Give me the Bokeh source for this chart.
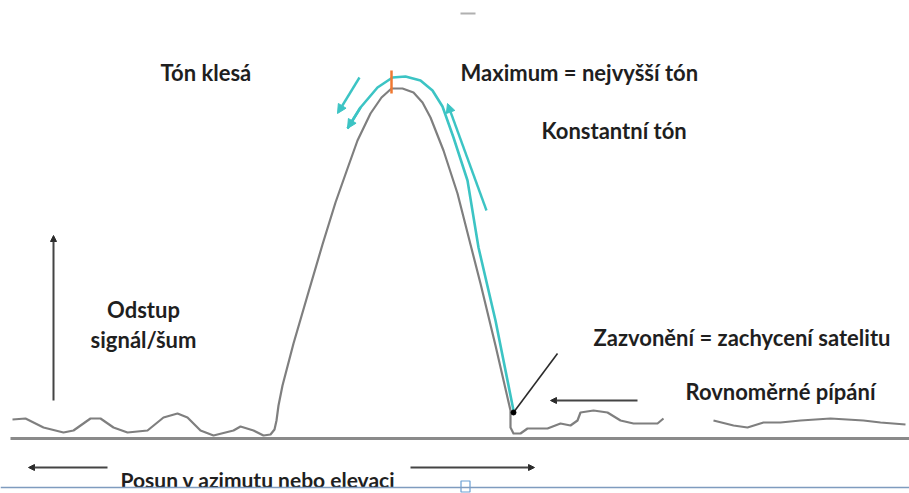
from bokeh.plotting import figure
from bokeh.models import Range1d, Arrow, NormalHead, ColumnDataSource
from bokeh.core.properties import value
from bokeh.embed import file_html
from bokeh.resources import INLINE

# ---- diagram data (image-pixel coordinates) ----
# signal trace: left noise -> peak -> right noise (first part)
trace_x = [12, 25, 43, 63, 73, 90, 100, 113, 127, 147, 163, 177, 187, 200, 213, 233, 240, 253, 263, 270, 274, 276,
           278, 282, 293, 307, 322, 335, 347, 357, 370, 381, 391,
           402, 413, 422, 430, 443, 457, 470, 480, 495, 510, 510, 513,
           520, 527, 547, 560, 570, 577, 580, 593, 607, 620, 633, 657, 663]
trace_y = [419, 418, 427, 432, 430, 418, 418, 427, 432, 430, 417, 413, 417, 430, 435, 430, 426, 430, 435, 434, 429, 420,
           405, 385, 343, 295, 244, 202, 168, 140, 113, 97, 88,
           88, 92, 102, 117, 150, 193, 244, 283, 345, 410, 427, 433,
           433, 428, 428, 423, 425, 420, 412, 410, 412, 420, 423, 423, 418]
# right noise, second part
noise2_x = [713, 733, 747, 763, 780, 800, 830, 863, 880, 905]
noise2_y = [420, 425, 427, 422, 422, 420, 418, 420, 422, 424]

# teal "tone" path over the peak
tone_x = [347, 360, 377, 392, 405, 420, 432, 442, 453, 467, 478, 495, 513]
tone_y = [128, 107, 87, 77, 76, 80, 90, 106, 137, 180, 247, 320, 410]

# horizontal base line
base_x = [10, 909]
base_y = [438, 438]

# slider strip at the bottom
slider_x = [0, 909]
slider_y = [487, 487]
knob_x = [465]
knob_y = [486]

# top dash
dash_x = [460, 475]
dash_y = [13, 13]

# orange maximum tick
tick_x = [391, 391]
tick_y = [70, 93]

# pointer line to the capture point
pointer_x = [557, 513]
pointer_y = [353, 412]
dot_x = [513]
dot_y = [412]

# teal arrows (start -> end, head at end)
teal_arrow_x0 = [359, 486, 360]
teal_arrow_y0 = [77, 210, 107]
teal_arrow_x1 = [337, 447, 347]
teal_arrow_y1 = [113, 103, 128]

# dark arrows (start -> end, head at end)
dark_arrow_x0 = [53, 637, 107, 410]
dark_arrow_y0 = [400, 400, 467, 467]
dark_arrow_x1 = [53, 550, 28, 534]
dark_arrow_y1 = [235, 400, 467, 467]

# labels
label_text = ["Tón klesá", "Maximum = nejvyšší tón", "Konstantní tón",
              "Zazvonění = zachycení satelitu", "Rovnoměrné pípání"]
label_x = [160, 460, 541, 593, 685]
label_y = [72, 72, 130, 337, 391]

center_text = ["Odstup", "signál/šum"]
center_x = [143, 143]
center_y = [309, 339]

bottom_text = ["Posun v azimutu nebo elevaci"]
bottom_x = [120]
bottom_y = [479]

# ---- styles ----
GRAY = "#7f7f7f"
TEAL = "#3cc4c4"
DARK = "#2b2b2b"
TXT = "#1f1f1f"
FONT = value("Lato")
FS = "22px"

p = figure(width=909, height=493, x_range=Range1d(0, 909), y_range=Range1d(493, 0),
           output_backend="svg", toolbar_location=None, min_border=0,
           x_axis_type=None, y_axis_type=None)
p.grid.visible = False
p.outline_line_color = None
p.background_fill_color = "white"
p.border_fill_color = "white"

p.line(base_x, base_y, line_color="#8a8a8a", line_width=3)
p.rect(knob_x, knob_y, width=9, height=11, fill_color="white", line_color="#6a9fd4", line_width=1.2)
p.line(dash_x, dash_y, line_color="#b0b0b0", line_width=2)

p.line(trace_x, trace_y, line_color=GRAY, line_width=2.2, line_join="round")
p.line(noise2_x, noise2_y, line_color=GRAY, line_width=2.2, line_join="round")
p.line(tone_x, tone_y, line_color=TEAL, line_width=2.6, line_join="round")
p.line(tick_x, tick_y, line_color="#f07830", line_width=2.5)
p.line(pointer_x, pointer_y, line_color=DARK, line_width=1.6)
p.scatter(dot_x, dot_y, size=5, fill_color="black", line_color="black")

teal_src = ColumnDataSource(dict(x0=teal_arrow_x0, y0=teal_arrow_y0, x1=teal_arrow_x1, y1=teal_arrow_y1))
p.add_layout(Arrow(end=NormalHead(size=9, fill_color=TEAL, line_color=TEAL),
                   x_start="x0", y_start="y0", x_end="x1", y_end="y1",
                   line_color=TEAL, line_width=2.4, source=teal_src))

dark_src = ColumnDataSource(dict(x0=dark_arrow_x0, y0=dark_arrow_y0, x1=dark_arrow_x1, y1=dark_arrow_y1))
p.add_layout(Arrow(end=NormalHead(size=6, fill_color=DARK, line_color=DARK),
                   x_start="x0", y_start="y0", x_end="x1", y_end="y1",
                   line_color="#444444", line_width=2, source=dark_src))

p.text(label_x, label_y, text=label_text, text_font=FONT, text_font_style="bold",
       text_font_size=FS, text_color=TXT, text_align="left", text_baseline="middle")
p.text(center_x, center_y, text=center_text, text_font=FONT, text_font_style="bold",
       text_font_size=FS, text_color=TXT, text_align="center", text_baseline="middle")
p.text(bottom_x, bottom_y, text=bottom_text, text_font=FONT, text_font_style="bold",
       text_font_size="21px", text_color=TXT, text_align="left", text_baseline="middle")
p.line(slider_x, slider_y, line_color="#7f9cbf", line_width=1.5)

open("out.html", "w").write(file_html(p, INLINE))
